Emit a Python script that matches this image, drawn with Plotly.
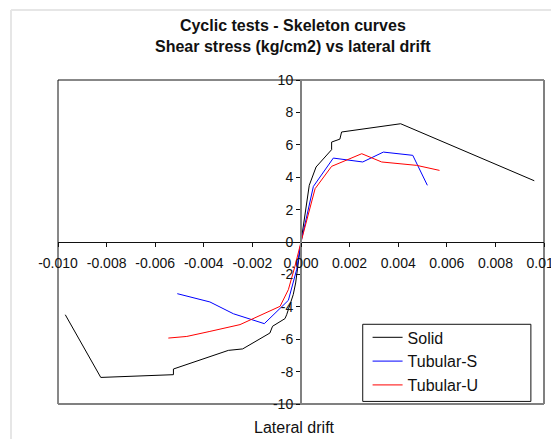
import plotly.graph_objects as go

# Data (lateral drift, shear stress kg/cm2)
solid_x = [-0.0097, -0.00824, -0.00525, -0.00525, -0.00299, -0.0024, -0.00128, -0.00117,
           -0.00066, -0.00059, -0.00032, -0.00022, 0.0, 0.00034, 0.00062, 0.00126, 0.00126,
           0.0016, 0.00167, 0.0041, 0.0096]
solid_y = [-4.49, -8.36, -8.19, -7.84, -6.69, -6.6, -5.62, -5.2,
           -4.73, -4.49, -3.25, -2.53, 0.0, 3.5, 4.63, 5.7, 6.17,
           6.35, 6.79, 7.3, 3.78]

tubs_x = [-0.00509, -0.00375, -0.00278, -0.00151, -0.00052, -0.00018, 0.0, 0.00051,
          0.00133, 0.00254, 0.00339, 0.0046, 0.0052]
tubs_y = [-3.19, -3.7, -4.43, -5.04, -3.6, -1.71, 0.0, 3.43,
          5.18, 4.94, 5.55, 5.35, 3.5]

tubu_x = [-0.00546, -0.0047, -0.00375, -0.00251, -0.00086, -0.00052, -0.00025, 0.0,
          0.00058, 0.00126, 0.0025, 0.00332, 0.00476, 0.0057]
tubu_y = [-5.93, -5.83, -5.52, -5.1, -3.97, -2.94, -1.5, 0.0,
          3.29, 4.67, 5.45, 4.94, 4.73, 4.42]

x_ticks = [-0.010, -0.008, -0.006, -0.004, -0.002, 0.000, 0.002, 0.004, 0.006, 0.008, 0.010]
x_tick_labels = ["-0.010", "-0.008", "-0.006", "-0.004", "-0.002", "0.000",
                 "0.002", "0.004", "0.006", "0.008", "0.010"]
y_ticks = [-10, -8, -6, -4, -2, 0, 2, 4, 6, 8, 10]
y_tick_labels = ["-10", "-8", "-6", "-4", "-2", "0", "2", "4", "6", "8", "10"]

series = [
    ("Solid", solid_x, solid_y, "#000000"),
    ("Tubular-S", tubs_x, tubs_y, "#0000ff"),
    ("Tubular-U", tubu_x, tubu_y, "#ff0000"),
]

FONT = "Liberation Sans, Arial, sans-serif"

fig = go.Figure()
for name, xs, ys, col in series:
    fig.add_trace(go.Scatter(x=xs, y=ys, mode="lines", name=name, legendgroup=name,
                             line=dict(color=col, width=1)))

frame = [
    dict(x0=0, y0=0, x1=0, y1=1, color="#111111", width=1),
    dict(x0=0, y0=1, x1=1, y1=1, color="#111111", width=1),
    dict(x0=1, y0=1, x1=1, y1=0, color="#808080", width=2),
    dict(x0=0, y0=0, x1=1, y1=0, color="#808080", width=2),
    # light outer chart border (top and left)
    dict(x0=-0.0967, y0=1.216, x1=1.05, y1=1.216, color="#e6e6e6", width=2),
    dict(x0=-0.0967, y0=1.216, x1=-0.0967, y1=-0.12, color="#e6e6e6", width=2),
]
shapes = [dict(type="line", xref="paper", yref="paper", x0=f["x0"], y0=f["y0"],
               x1=f["x1"], y1=f["y1"], line=dict(color=f["color"], width=f["width"]),
               layer="below") for f in frame]
# legend box
shapes.append(dict(type="rect", xref="paper", yref="paper", x0=0.627, x1=0.973,
                   y0=0.008, y1=0.246, line=dict(color="#111111", width=1),
                   fillcolor="white", layer="above"))

fig.update_layout(
    width=551, height=431,
    margin=dict(l=50, r=15, t=72, b=35, autoexpand=False),
    paper_bgcolor="white", plot_bgcolor="white",
    font=dict(family=FONT, size=14, color="#111111"),
    title=dict(text="<b>Cyclic tests - Skeleton curves<br>Shear stress (kg/cm2) vs lateral drift</b>",
               x=0.517, xanchor="center", y=0.947, yanchor="top",
               font=dict(family=FONT, size=16, color="#111111")),
    xaxis=dict(range=[-0.010, 0.010], tickvals=x_ticks, ticktext=x_tick_labels,
               anchor="free", position=0.5, showline=True, linecolor="#111111", linewidth=1,
               ticks="outside", ticklen=4, tickcolor="#111111", showgrid=False, zeroline=False,
               tickfont=dict(size=14), ticklabeloverflow="allow", automargin=False,
               ticklabelstandoff=4),
    yaxis=dict(range=[-10, 10], tickvals=y_ticks, ticktext=y_tick_labels,
               anchor="free", position=0.5, showline=True, linecolor="#808080", linewidth=2,
               ticks="outside", ticklen=4, tickcolor="#111111", showgrid=False, zeroline=False,
               tickfont=dict(size=14), ticklabeloverflow="allow", automargin=False),
    showlegend=True,
    legend=dict(x=0.637, y=0.258, xanchor="left", yanchor="top",
                bgcolor="rgba(0,0,0,0)", borderwidth=0,
                font=dict(family=FONT, size=16, color="#111111"),
                traceorder="grouped", tracegroupgap=0),
    shapes=shapes,
    annotations=[dict(text="Lateral drift", xref="paper", yref="paper", x=0.486, y=-0.074,
                      xanchor="center", yanchor="middle", showarrow=False,
                      font=dict(family=FONT, size=16, color="#111111"))],
)

fig.write_html("out.html")
